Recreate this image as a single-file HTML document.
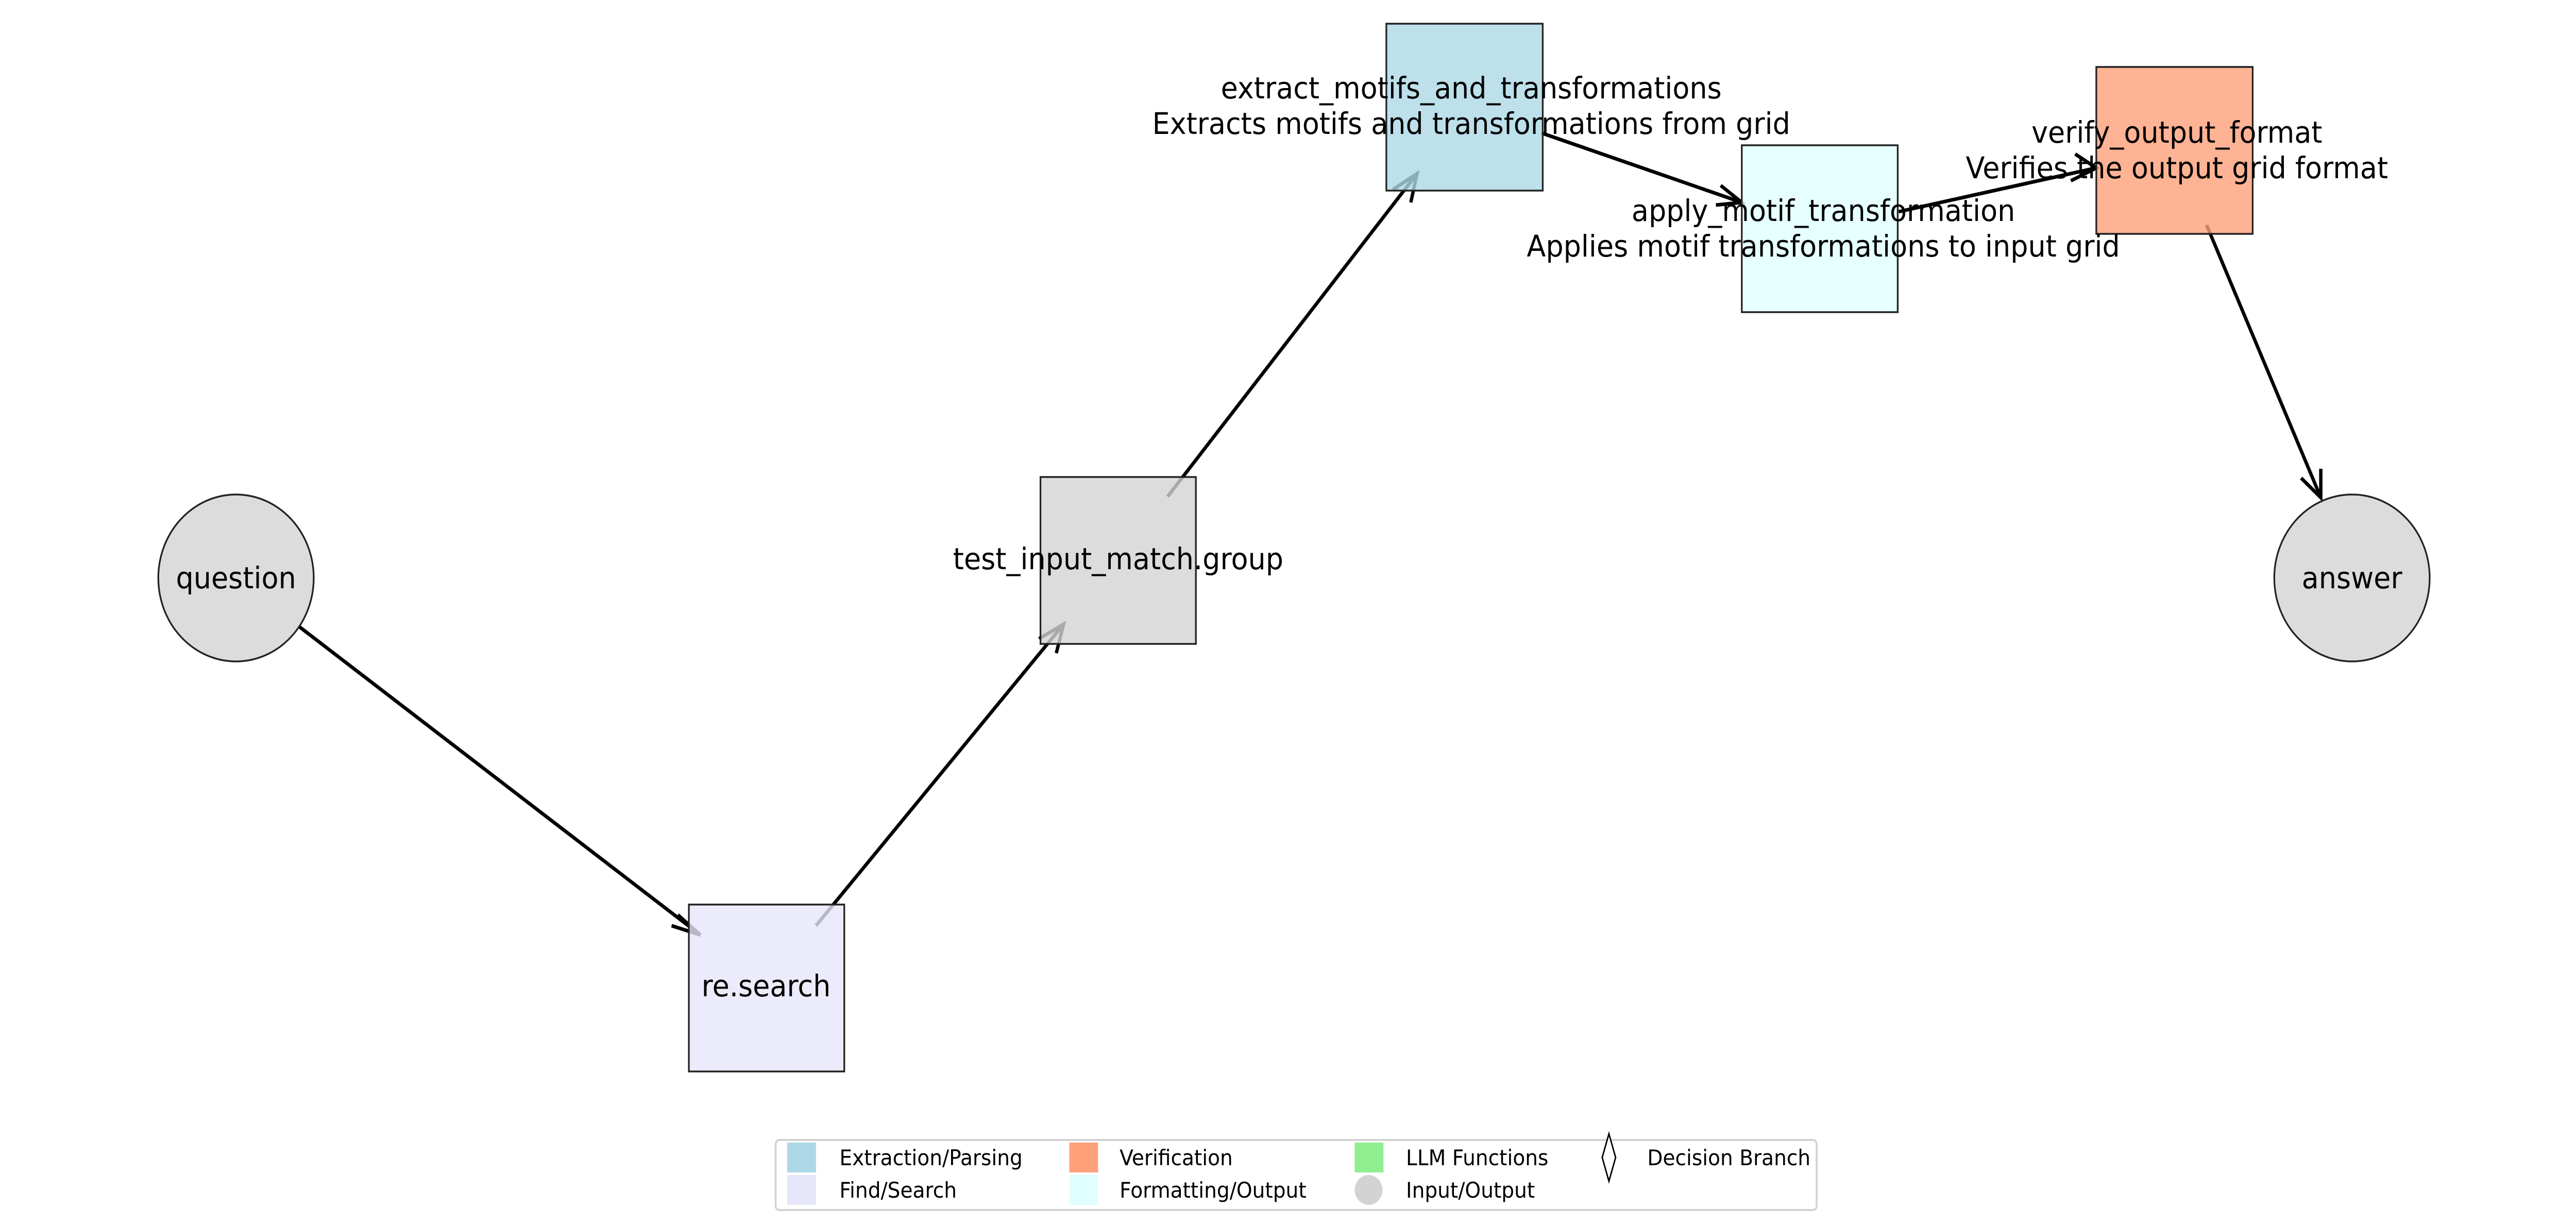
<!DOCTYPE html>
<html><head><meta charset="utf-8"><style>
html,body{margin:0;padding:0;background:#fff;width:100%;height:100%;overflow:hidden;}
svg{display:block;width:100vw;height:100vh;}
text{font-family:"DejaVu Sans","Liberation Sans",sans-serif;fill:#000;}
</style></head><body>
<svg viewBox="0 0 5370 2380" preserveAspectRatio="none" xmlns="http://www.w3.org/2000/svg">
<g stroke="#000" stroke-width="7" fill="none" stroke-linecap="butt">
<line x1="623" y1="1216" x2="1460" y2="1815"/>
<polyline points="1413,1776 1460,1815 1400,1797"/>
<line x1="1701" y1="1797" x2="2217" y2="1212"/>
<polyline points="2166,1240 2217,1212 2202,1268"/>
<line x1="2434" y1="964" x2="2954" y2="337"/>
<polyline points="2904,368 2954,337 2941,393"/>
<line x1="3213" y1="258" x2="3631" y2="393"/>
<polyline points="3587,360 3631,393 3577,398"/>
<line x1="3958" y1="411" x2="4370" y2="326"/>
<polyline points="4317,351 4370,326 4326,299"/>
<line x1="4600" y1="437" x2="4838" y2="966"/>
<polyline points="4797,928 4838,966 4838,910"/>
</g>
<g stroke="#222" stroke-width="3.5">
<circle cx="492" cy="1122" r="162" fill="#d3d3d3" fill-opacity="0.8"/>
<circle cx="4903" cy="1122" r="162" fill="#d3d3d3" fill-opacity="0.8"/>
<rect x="1436" y="1756" width="324" height="324" fill="#e6e6fa" fill-opacity="0.8"/>
<rect x="2169" y="926" width="324" height="324" fill="#d3d3d3" fill-opacity="0.8"/>
<rect x="2890" y="46" width="326" height="324" fill="#add8e6" fill-opacity="0.8"/>
<rect x="3631" y="282" width="325" height="324" fill="#e0ffff" fill-opacity="0.8"/>
<rect x="4370" y="130" width="326" height="324" fill="#ffa07a" fill-opacity="0.8"/>
</g>
<g font-size="58" text-anchor="middle">
<text x="492" y="1142">question</text>
<text x="4903" y="1142">answer</text>
<text x="1597" y="1934">re.search</text>
<text x="2331" y="1105">test_input_match.group</text>
<text x="3067" y="191">extract_motifs_and_transformations</text>
<text x="3067" y="260">Extracts motifs and transformations from grid</text>
<text x="3801" y="429">apply_motif_transformation</text>
<text x="3801" y="498">Applies motif transformations to input grid</text>
<text x="4538" y="277">verify_output_format</text>
<text x="4538" y="346">Verifies the output grid format</text>
</g>
<rect x="1617" y="2213" width="2170" height="136" rx="8" fill="#fff" stroke="#d3d3d3" stroke-width="4"/>
<rect x="1641" y="2218" width="60" height="58" fill="#add8e6"/>
<rect x="1641" y="2281" width="60" height="58" fill="#e6e6fa"/>
<rect x="2229" y="2218" width="60" height="58" fill="#ffa07a"/>
<rect x="2229" y="2281" width="60" height="58" fill="#e0ffff"/>
<rect x="2824" y="2218" width="60" height="58" fill="#90ee90"/>
<ellipse cx="2853" cy="2310" rx="29" ry="29" fill="#d3d3d3"/>
<polygon points="3354,2201 3368,2247 3354,2293 3340,2247" fill="#fff" stroke="#000" stroke-width="3"/>
<g font-size="42">
<text x="1750" y="2262">Extraction/Parsing</text>
<text x="1750" y="2325">Find/Search</text>
<text x="2334" y="2262">Verification</text>
<text x="2334" y="2325">Formatting/Output</text>
<text x="2931" y="2262">LLM Functions</text>
<text x="2931" y="2325">Input/Output</text>
<text x="3434" y="2262">Decision Branch</text>
</g>
</svg>
</body></html>
